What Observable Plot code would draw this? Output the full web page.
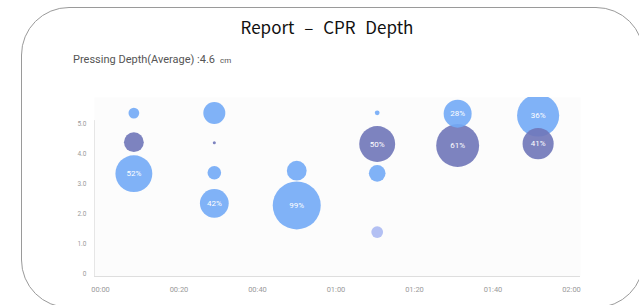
<!DOCTYPE html>
<html><head><meta charset="utf-8">
<script src="https://cdn.jsdelivr.net/npm/d3@7"></script>
<script src="https://cdn.jsdelivr.net/npm/@observablehq/plot@0.6"></script>
<style>
body{margin:0;background:#fff;}
#wrap{position:relative;width:639px;height:305px;overflow:hidden;background:#fff;}
#frame{position:absolute;left:21px;top:7px;width:623px;height:301px;border:1px solid #9a9a9a;border-radius:48px;box-sizing:border-box;}
#title{position:absolute;left:0;width:654px;top:17px;line-height:20px;text-align:center;font-size:17px;font-family:"Noto Sans CJK KR","Noto Sans",sans-serif;color:#111;word-spacing:6px;}
#sub{position:absolute;left:73px;top:53px;line-height:13px;font-size:11px;font-family:Roboto,sans-serif;color:#555;white-space:nowrap;}
#sub .u{font-size:8px;margin-left:5px;}
#chart{position:absolute;left:0;top:80px;}
</style>
</head><body>
<div id="wrap">
  <div id="frame"></div>
  <div id="title">Report – CPR Depth</div>
  <div id="sub">Pressing Depth(Average) :4.6<span class="u">cm</span></div>
  <div id="chart"></div>
</div>
<script>
// time (seconds) of each bubble
const times  = [8.5, 8.5, 8.5, 29, 29, 29, 29, 50, 50, 70.5, 70.5, 70.5, 70.5, 91, 91, 111.5, 111.5];
// pressing depth (cm)
const depths = [5.35, 4.38, 3.33, 5.35, 4.36, 3.36, 2.34, 3.43, 2.27, 5.36, 4.32, 3.34, 1.38, 5.33, 4.27, 5.27, 4.33];
// number of compressions (bubble size)
const counts = [5, 17, 59, 21, 0.4, 8, 36, 17, 100, 1, 56, 12, 6, 34, 80, 77, 42];
// bubble group
const groups = ["A","B","A","A","B","A","A","A","A","A","B","A","C","A","B","A","B"];
// bubble labels
const labels = ["","","52%","","","","42%","","99%","","50%","","","28%","61%","36%","41%"];

const groupNames  = ["A","B","C"];
const groupColors = ["#72aaf6","#6f76b8","#abb9f2"];
const xTicks = [0, 20, 40, 60, 80, 100, 120];
const yTicks = [0, 1, 2, 3, 4, 5];

const data = times.map((t, i) => ({t, d: depths[i], n: counts[i], g: groups[i], label: labels[i]}));
const fmt = s => String(Math.floor(s/60)).padStart(2,"0") + ":" + String(s%60).padStart(2,"0");
const xMin = -1.53, xMax = 122.3, yMin = -0.1, yMax = 5.87;

const chart = Plot.plot({
  width: 639, height: 225,
  marginLeft: 94, marginRight: 59, marginTop: 17, marginBottom: 29,
  style: {fontFamily: "Roboto, sans-serif", background: "transparent", overflow: "visible"},
  x: {domain: [xMin, xMax]},
  y: {domain: [yMin, yMax]},
  r: {type: "sqrt", domain: [0, 100], range: [0, 24]},
  color: {domain: groupNames, range: groupColors},
  marks: [
    Plot.frame({fill: "#fcfcfc", stroke: null}),
    Plot.ruleY([yMin], {stroke: "#dedede"}),
    Plot.ruleX([xMin], {y1: yMin, y2: 5.1, stroke: "#e6e6e6"}),
    Plot.axisX({ticks: xTicks, tickFormat: fmt, tickSize: 0, tickPadding: 10, fontSize: 7.5, fill: "#9a9a9a", stroke: null, label: null}),
    Plot.axisY({ticks: yTicks, tickFormat: d => d === 0 ? "0" : d.toFixed(1), tickSize: 0, tickPadding: 8, fontSize: 6.5, fill: "#9a9a9a", stroke: null, label: null}),
    Plot.dot(data, {x: "t", y: "d", r: "n", fill: "g", fillOpacity: 0.9, clip: "frame"}),
    Plot.text(data.filter(d => d.label), {x: "t", y: "d", text: "label", fill: "white", fontSize: 8})
  ]
});
document.getElementById("chart").appendChild(chart);
</script>
</body></html>
